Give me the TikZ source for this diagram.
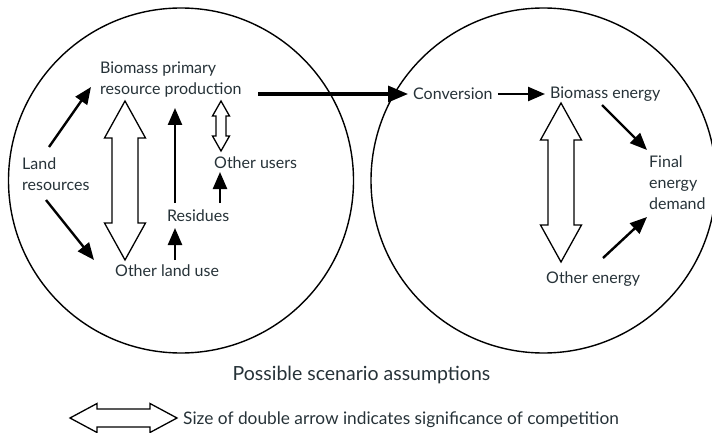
\documentclass[tikz,border=0pt]{standalone}
\usepackage{fontspec}
\setmainfont{Lato}
\usetikzlibrary{calc,arrows.meta}
\definecolor{txt}{HTML}{263238}
\newcommand\dblarr[5]{%
  \draw[hollow] (#1)
    -- ($(#1)!#5!(#2)!#4!90:(#2)$) -- ($(#1)!#5!(#2)!#3!90:(#2)$)
    -- ($(#2)!#5!(#1)!#3!-90:(#1)$) -- ($(#2)!#5!(#1)!#4!-90:(#1)$)
    -- (#2)
    -- ($(#2)!#5!(#1)!#4!90:(#1)$) -- ($(#2)!#5!(#1)!#3!90:(#1)$)
    -- ($(#1)!#5!(#2)!#3!-90:(#2)$) -- ($(#1)!#5!(#2)!#4!-90:(#2)$)
    -- cycle;}
\begin{document}
\begin{tikzpicture}[x=1pt,y=-1pt,
  lbl/.style={inner sep=0pt,anchor=west,align=left,text=txt,
    font=\fontsize{16}{21}\selectfont},
  ring/.style={draw,line width=1.4pt},
  arr/.style={line width=2.4pt,-{Triangle[length=17pt,width=14pt]}},
  thickarr/.style={line width=3.2pt,-{Triangle[length=20pt,width=16pt]}},
  hollow/.style={draw,line width=1.3pt,fill=white,line join=miter}]
\useasboundingbox (0,0) rectangle (712,433);
% circles
\node[ring,circle,minimum size=345pt,inner sep=0pt] (leftc) at (181,180.5) {};
\node[ring,circle,minimum size=345pt,inner sep=0pt] (rightc) at (543.5,180.5) {};
% labels
\node[lbl] (bpp) at (100,79.5) {Biomass primary\\resource production};
\node[lbl] (land) at (22,174) {Land\\resources};
\node[lbl] (ousers) at (214,163) {Other users};
\node[lbl] (resid) at (167,216) {Residues};
\node[lbl] (oland) at (115,271) {Other land use};
\node[lbl] (conv) at (413,94) {Conversion};
\node[lbl] (benergy) at (550,94) {Biomass energy};
\node[lbl] (final) at (649,183) {Final\\energy\\demand};
\node[lbl] (oenergy) at (546,279) {Other energy};
\node[lbl,anchor=center,font=\fontsize{19.5}{24}\selectfont] (title) at (361.5,375) {Possible scenario assumptions};
\node[lbl,font=\fontsize{17.3}{22}\selectfont] (legend) at (183,420) {Size of double arrow indicates significance of competition};
% solid arrows
\draw[arr] ($(land.west)+(27,-27)$) -- ($(bpp.west)+(-9,7.5)$);
\draw[arr] ($(land.west)+(24,26)$) -- ($(oland.west)+(-21,-11)$);
\draw[arr] ($(resid.west)+(8,-13)$) -- ($(bpp.west)+(75,28.5)$);
\draw[arr] ($(oland.west)+(60,-11)$) -- ($(resid.west)+(8,12)$);
\draw[arr] ($(resid.west)+(53,-13)$) -- ($(ousers.west)+(6,9)$);
\draw[thickarr] ($(bpp.west)+(158,14.5)$) -- ($(conv.west)+(-5,0)$);
\draw[arr] ($(conv.east)+(5,0)$) -- ($(benergy.west)+(-5,0)$);
\draw[arr] ($(benergy.west)+(52,11)$) -- ($(final.west)+(-2,-33)$);
\draw[arr] ($(oenergy.west)+(57,-21)$) -- ($(final.west)+(-2,34)$);
% hollow double arrows
\coordinate (dl1) at ($(bpp.west)+(25,21.5)$);
\coordinate (dl2) at ($(oland.west)+(10,-11)$);
\dblarr{dl1}{dl2}{13pt}{20.5pt}{37pt}
\coordinate (ds1) at ($(bpp.west)+(121,21.5)$);
\coordinate (ds2) at ($(ousers.west)+(7,-12)$);
\dblarr{ds1}{ds2}{5pt}{8.5pt}{15pt}
\coordinate (dr1) at ($(benergy.west)+(11,9)$);
\coordinate (dr2) at ($(oenergy.west)+(15,-17)$);
\dblarr{dr1}{dr2}{13pt}{20.5pt}{37pt}
\coordinate (lg1) at ($(legend.west)+(-113,-2)$);
\coordinate (lg2) at ($(legend.west)+(-6,-2)$);
\dblarr{lg1}{lg2}{9pt}{14.5pt}{27pt}
\end{tikzpicture}
\end{document}
